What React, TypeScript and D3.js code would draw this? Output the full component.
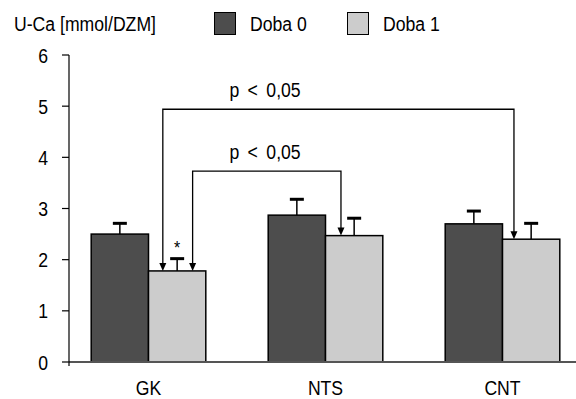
import React from 'react';
import * as d3 from 'd3';

const categories = ['GK', 'NTS', 'CNT'];
const seriesNames = ['Doba 0', 'Doba 1'];
const doba0 = [2.5, 2.87, 2.7];
const doba0Err = [0.21, 0.31, 0.25];
const doba1 = [1.78, 2.47, 2.4];
const doba1Err = [0.24, 0.34, 0.31];
const yTicks = [0, 1, 2, 3, 4, 5, 6];
const brackets = [
  { from: 'GK', fromPos: 0.25, to: 'CNT', toPos: 0.2, level: 4.94, label: 'p < 0,05' },
  { from: 'GK', fromPos: 0.77, to: 'NTS', toPos: 0.27, level: 3.73, label: 'p < 0,05' },
];

const W = 576;
const H = 399;
const FONT = '"Liberation Sans", Arial, sans-serif';
const colors = ['#4d4d4d', '#cccccc'];

// condensed text: Arial squeezed horizontally to look like a narrow face
function T({ x, y, anchor = 'start', size = 21, children }: any) {
  return (
    <text transform={`translate(${x},${y}) scale(0.84,1)`} fontSize={size} textAnchor={anchor} fill="#000">
      {children}
    </text>
  );
}

export default function App() {
  const y = d3.scaleLinear().domain([0, 6]).range([362, 55]);
  const x = d3.scaleBand<string>().domain(categories).range([60, 591]);
  const groupW = 114.6;
  const xs = d3.scaleBand<string>().domain(seriesNames).range([0, groupW]);
  const left = (c: string) => (x(c) as number) + x.bandwidth() / 2 - groupW / 2;
  const values = [doba0, doba1];
  const errs = [doba0Err, doba1Err];
  const y0 = y(0);
  const axisX = 69;

  const valueOf = (c: string) => doba1[categories.indexOf(c)];
  const lightX = (c: string, f: number) => left(c) + (xs('Doba 1') as number) + xs.bandwidth() * f;

  return (
    <svg width={W} height={H} style={{ position: 'absolute', left: 0, top: 0, fontFamily: FONT }}>
      <rect width={W} height={H} fill="#fff" />
      {/* title + legend */}
      <T x={14} y={31}>U-Ca [mmol/DZM]</T>
      {seriesNames.map((s, i) => (
        <g key={s} transform={`translate(${[214, 347][i]},12)`}>
          <rect x={0.5} y={0.5} width={21} height={22} fill={colors[i]} stroke="#000" strokeWidth={1} />
          <T x={36} y={19}>{s}</T>
        </g>
      ))}

      {/* bars */}
      {categories.map((c, ci) =>
        seriesNames.map((s, si) => {
          const bx = left(c) + (xs(s) as number);
          const bw = xs.bandwidth();
          const v = values[si][ci];
          const e = errs[si][ci];
          const cx = bx + bw / 2;
          return (
            <g key={c + s}>
              <line x1={cx} x2={cx} y1={y(v)} y2={y(v + e)} stroke="#000" strokeWidth={1.5} />
              <line x1={cx - 7} x2={cx + 7} y1={y(v + e)} y2={y(v + e)} stroke="#000" strokeWidth={3} />
              <rect x={bx} y={y(v)} width={bw} height={y0 - y(v)} fill={colors[si]} stroke="#000" strokeWidth={1.5} />
            </g>
          );
        })
      )}

      {/* axes */}
      <line x1={axisX} x2={W} y1={y0} y2={y0} stroke="#555" strokeWidth={2} />
      <line x1={axisX} x2={axisX} y1={y(6)} y2={y0 + 4} stroke="#000" strokeWidth={1.2} />
      {yTicks.map((t) => (
        <g key={t}>
          <line x1={axisX - 7} x2={axisX} y1={y(t)} y2={y(t)} stroke="#000" strokeWidth={1.2} />
          <T x={48} y={y(t) + 7.5} anchor="end">{t}</T>
        </g>
      ))}
      {categories.map((c) => (
        <T key={c} x={(x(c) as number) + x.bandwidth() / 2} y={394.5} anchor="middle">{c}</T>
      ))}

      {/* significance brackets */}
      {brackets.map((b, i) => {
        const x1 = lightX(b.from, b.fromPos);
        const x2 = lightX(b.to, b.toPos);
        const yl = y(b.level);
        const t1 = y(valueOf(b.from));
        const t2 = y(valueOf(b.to));
        const arrow = (ax: number, ay: number) => `M${ax},${ay} L${ax - 3.5},${ay - 8} L${ax + 3.5},${ay - 8} Z`;
        return (
          <g key={i}>
            <path d={`M${x1},${t1 - 6} V${yl} H${x2} V${t2 - 6}`} fill="none" stroke="#000" strokeWidth={1.3} />
            <path d={arrow(x1, t1)} fill="#000" />
            <path d={arrow(x2, t2)} fill="#000" />
            <T x={265} y={yl - 12.5} anchor="middle">{b.label.replace('<', '\u2009<\u2009')}</T>
          </g>
        );
      })}
      <T x={lightX('GK', 0.5)} y={254} anchor="middle" size={19}>*</T>
    </svg>
  );
}
